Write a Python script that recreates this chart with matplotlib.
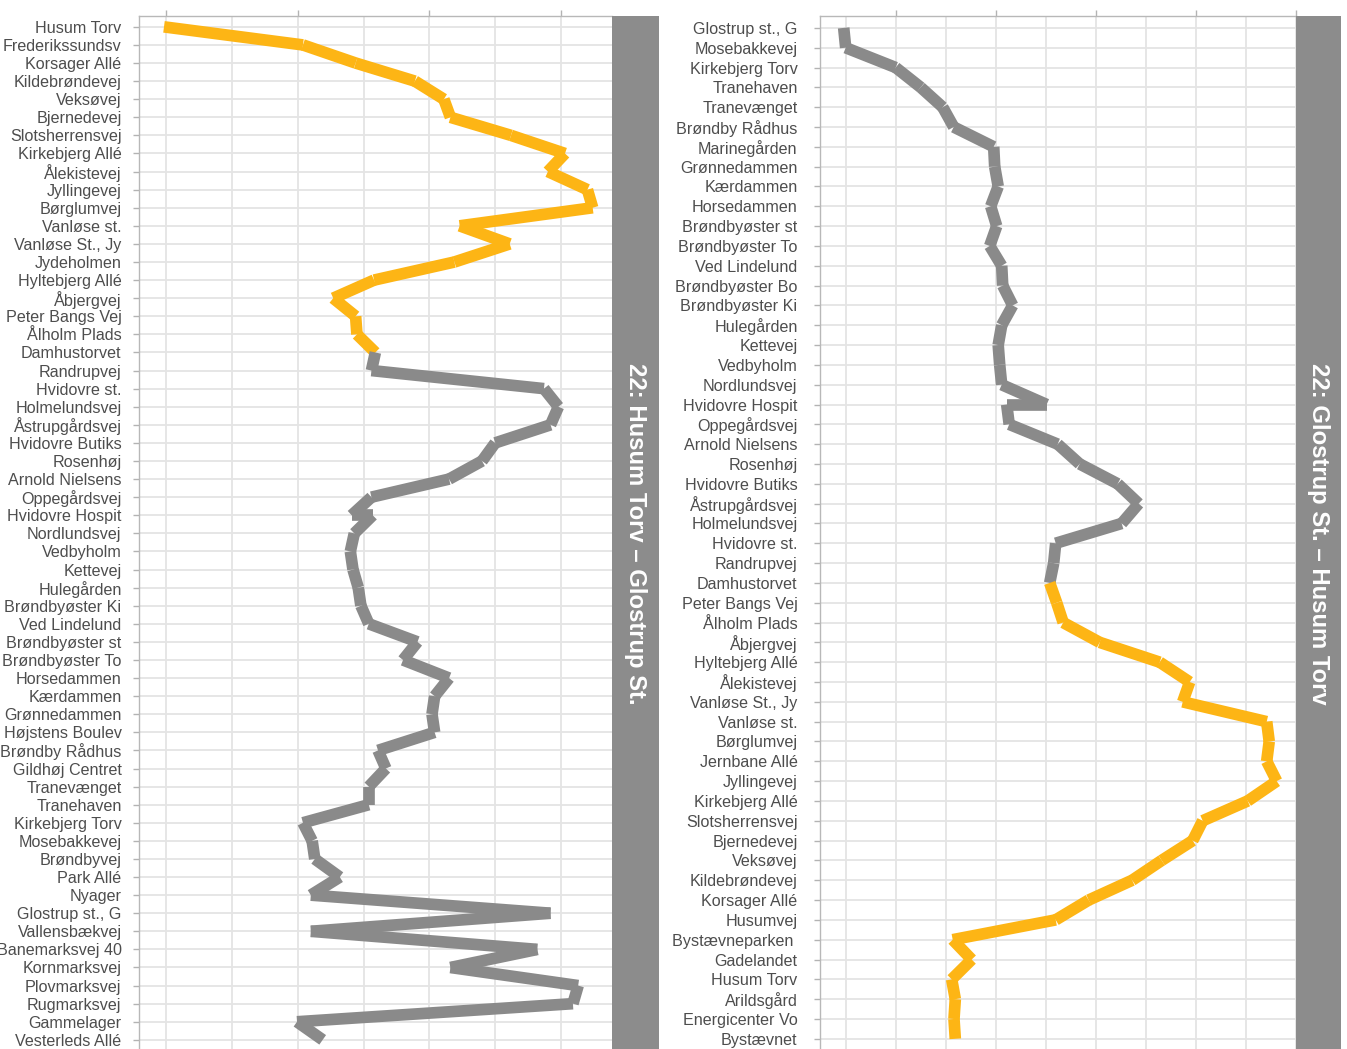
import matplotlib
matplotlib.use("Agg")
import matplotlib.pyplot as plt
from matplotlib.ticker import FixedLocator

plt.rcParams['font.family'] = ['Liberation Sans', 'DejaVu Sans']

# --- data: stops in path order, part of the route ---
left_title = "22: Husum Torv – Glostrup St."
left_stops = ["Husum Torv", "Frederikssundsv", "Korsager Allé", "Kildebrøndevej", "Veksøvej",
              "Bjernedevej", "Slotsherrensvej", "Kirkebjerg Allé", "Ålekistevej", "Jyllingevej",
              "Børglumvej", "Vanløse st.", "Vanløse St., Jy", "Jydeholmen", "Hyltebjerg Allé",
              "Åbjergvej", "Peter Bangs Vej", "Ålholm Plads", "Damhustorvet", "Randrupvej",
              "Hvidovre st.", "Holmelundsvej", "Åstrupgårdsvej", "Hvidovre Butiks", "Rosenhøj",
              "Arnold Nielsens", "Oppegårdsvej", "Hvidovre Hospit", "Hvidovre Hospit", "Nordlundsvej",
              "Vedbyholm", "Kettevej", "Hulegården", "Brøndbyøster Ki", "Ved Lindelund",
              "Brøndbyøster st", "Brøndbyøster To", "Horsedammen", "Kærdammen", "Grønnedammen",
              "Højstens Boulev", "Brøndby Rådhus", "Gildhøj Centret", "Tranevænget", "Tranehaven",
              "Kirkebjerg Torv", "Mosebakkevej", "Brøndbyvej", "Park Allé", "Nyager",
              "Glostrup st., G", "Vallensbækvej", "Banemarksvej 40", "Kornmarksvej", "Plovmarksvej",
              "Rugmarksvej", "Gammelager", "Vesterleds Allé"]
left_values = [-0.15, 10.4, 14.4, 18.9, 21.1, 21.6, 26.2, 30.3, 29.0, 32.0,
               32.4, 22.3, 26.1, 21.9, 15.8, 12.7, 14.4, 14.5, 15.9, 15.6,
               28.7, 29.8, 29.2, 25.0, 24.0, 21.5, 15.6, 14.1, 15.7, 14.3,
               14.0, 14.2, 14.6, 14.8, 15.4, 19.1, 18.0, 21.5, 20.4, 20.2,
               20.4, 16.1, 16.7, 15.4, 15.4, 10.4, 11.1, 11.3, 13.2, 11.0,
               29.2, 11.0, 28.2, 21.6, 31.3, 30.9, 9.95, 11.9]
left_part = ["a"] * 18 + ["b"] * 40

right_title = "22: Glostrup St. – Husum Torv"
right_stops = ["Glostrup st., G", "Mosebakkevej", "Kirkebjerg Torv", "Tranehaven", "Tranevænget",
               "Brøndby Rådhus", "Marinegården", "Grønnedammen", "Kærdammen", "Horsedammen",
               "Brøndbyøster st", "Brøndbyøster To", "Ved Lindelund", "Brøndbyøster Bo", "Brøndbyøster Ki",
               "Hulegården", "Kettevej", "Vedbyholm", "Nordlundsvej", "Hvidovre Hospit",
               "Hvidovre Hospit", "Oppegårdsvej", "Arnold Nielsens", "Rosenhøj", "Hvidovre Butiks",
               "Åstrupgårdsvej", "Holmelundsvej", "Hvidovre st.", "Randrupvej", "Damhustorvet",
               "Peter Bangs Vej", "Ålholm Plads", "Åbjergvej", "Hyltebjerg Allé", "Ålekistevej",
               "Vanløse St., Jy", "Vanløse st.", "Børglumvej", "Jernbane Allé", "Jyllingevej",
               "Kirkebjerg Allé", "Slotsherrensvej", "Bjernedevej", "Veksøvej", "Kildebrøndevej",
               "Korsager Allé", "Husumvej", "Bystævneparken ", "Gadelandet", "Husum Torv",
               "Arildsgård", "Energicenter Vo", "Bystævnet"]
right_values = [-5.2, -5.0, 0.0, 2.5, 4.7, 5.8, 9.8, 9.9, 10.25, 9.5,
                10.1, 9.4, 10.6, 10.7, 11.7, 10.6, 10.25, 10.4, 10.6, 15.1,
                11.1, 11.35, 16.2, 18.4, 22.2, 24.3, 22.6, 16.0, 15.8, 15.4,
                16.1, 16.75, 20.4, 26.4, 29.4, 28.7, 37.1, 37.35, 37.1, 38.1,
                35.2, 30.7, 29.7, 26.6, 23.65, 19.3, 16.0, 5.7, 7.6, 5.6,
                5.96, 5.83, 5.96]
right_part = ["b"] * 29 + ["a"] * 24

part_colors = {"a": "#FDB515", "b": "#8A8A8A"}


def draw_panel(ax, strip, stops, values, parts, title, xlim, majors, minors, pad):
    cats = list(dict.fromkeys(stops))
    ypos = [cats.index(s) for s in stops]
    for i in range(len(stops) - 1):
        ax.plot(values[i:i + 2], ypos[i:i + 2], color=part_colors[parts[i]],
                lw=8.4, solid_capstyle="butt", zorder=3)

    ax.set_xlim(*xlim)
    ax.set_ylim(len(cats) - 1 + 0.6, -0.6)
    ax.set_yticks(range(len(cats)))
    ax.set_yticklabels(cats)
    ax.xaxis.set_major_locator(FixedLocator(majors))
    ax.xaxis.set_minor_locator(FixedLocator(minors))
    ax.xaxis.tick_top()
    ax.tick_params(axis="x", which="major", length=4.5, width=1.0, color="#B3B3B3",
                   labeltop=False, labelbottom=False)
    ax.tick_params(axis="x", which="minor", length=0)
    ax.tick_params(axis="y", length=4.3, width=1.0, color="#B3B3B3",
                   labelsize=11.6, labelcolor="#4D4D4D", pad=pad)
    ax.set_axisbelow(True)
    ax.grid(True, which="both", axis="x", color="#E4E4E4", lw=1.3)
    ax.grid(True, which="major", axis="y", color="#E4E4E4", lw=1.3)
    for side in ["right", "bottom"]:
        ax.spines[side].set_visible(False)
    for side in ["left", "top"]:
        ax.spines[side].set_color("#B8B8B8")
        ax.spines[side].set_linewidth(1.0)

    strip.set_facecolor("#8C8C8C")
    strip.set_xticks([])
    strip.set_yticks([])
    for s in strip.spines.values():
        s.set_visible(False)
    strip.text(0.5, 0.5, title, rotation=270, ha="center", va="center",
               color="white", fontsize=17.2, fontweight="bold", transform=strip.transAxes)


W, H = 1347, 1049
fig = plt.figure(figsize=(W / 100, H / 100), dpi=100)
top, bot = 16, 1050.7
yb = (H - bot) / H
hh = (bot - top) / H

ax1 = fig.add_axes([138.7 / W, yb, (612.3 - 138.7) / W, hh])
st1 = fig.add_axes([612.3 / W, yb, (659 - 612.3) / W, hh])
ax2 = fig.add_axes([819.5 / W, yb, (1295.7 - 819.5) / W, hh])
st2 = fig.add_axes([1295.7 / W, yb, (1341 - 1295.7) / W, hh])

draw_panel(ax1, st1, left_stops, left_values, left_part, left_title,
           (-2.07, 33.89), [0, 10, 20, 30], [5, 15, 25], 8)
draw_panel(ax2, st2, right_stops, right_values, right_part, right_title,
           (-7.62, 40.0), [0, 10, 20, 30, 40], [-5, 5, 15, 25, 35], 11.5)

fig.savefig("out.png", dpi=100)
